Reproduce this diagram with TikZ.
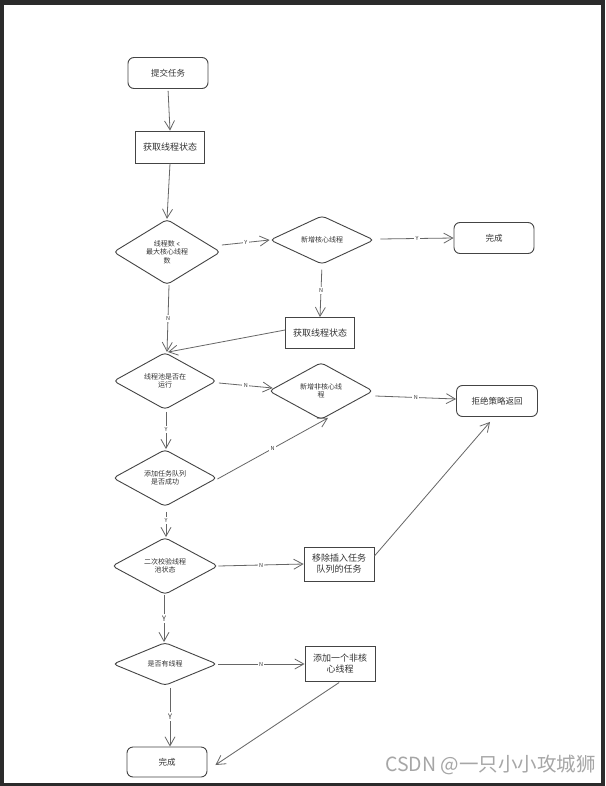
\documentclass[tikz,border=0pt]{standalone}
\usepackage{fontspec}
\setmainfont{Noto Sans CJK SC}
\usetikzlibrary{shapes.geometric,arrows.meta,calc}
\definecolor{frame}{HTML}{2B2B2B}
\definecolor{edge}{HTML}{444444}
\definecolor{conn}{HTML}{666666}
\definecolor{txt}{HTML}{333333}
\tikzset{
  x=1pt,y=-1pt,
  base/.style={draw=edge,line width=0.9pt,text=txt,inner sep=1pt,align=center},
  roundbox/.style={base,rounded corners=6pt,minimum width=80pt,minimum height=31pt,font=\fontsize{8.5}{10}\selectfont},
  rectbox/.style={base,minimum width=69pt,minimum height=32pt,font=\fontsize{9}{11}\selectfont},
  decision/.style={base,diamond,rounded corners=4pt,inner sep=0pt,minimum width=104pt,minimum height=44pt,font=\fontsize{7}{8.5}\selectfont},
  arr/.style={draw=conn,line width=0.8pt,-{Straight Barb[length=9pt,width=10pt,line width=0.8pt]}},
  lbl/.style={fill=white,inner sep=1.5pt,text=txt,font=\fontsize{5.5}{6}\selectfont},
  biglbl/.style={fill=white,inner sep=1.5pt,text=txt,font=\fontsize{7.5}{8}\selectfont},
}
\begin{document}
\begin{tikzpicture}
\useasboundingbox (0,0) rectangle (605,786);
\fill[frame] (0,0) rectangle (605,786);
\fill[white] (4,5) rectangle (601,783);

\node[roundbox] (start) at (168,73) {提交任务};
\node[rectbox] (get1) at (170,147) {获取线程状态};
\node[decision,minimum width=107pt,minimum height=61pt] (d1) at (167,252) {线程数 \texttt{<}\\最大核心线程\\数};
\node[decision,minimum height=46pt] (d2) at (322,240) {新增核心线程};
\node[roundbox] (done1) at (494,238) {完成};
\node[rectbox,minimum height=31pt] (get2) at (320,333) {获取线程状态};
\node[decision,minimum width=103pt,minimum height=46pt] (d3) at (165,381) {线程池是否在\\运行};
\node[decision,minimum height=43pt] (d4) at (321,391) {新增非核心线\\程};
\node[roundbox,minimum width=81pt] (reject) at (497,401) {拒绝策略返回};
\node[decision,minimum height=43pt] (d5) at (165,478) {添加任务队列\\是否成功};
\node[decision,minimum width=106pt,minimum height=44pt] (d6) at (165,566) {二次校验线程\\池状态};
\node[rectbox,minimum width=70pt,minimum height=34pt] (remove) at (339,564) {移除插入任务\\队列的任务};
\node[decision,minimum height=43pt] (d7) at (165,664) {是否有线程};
\node[rectbox,minimum width=70pt,minimum height=35pt] (addnc) at (340,664) {添加一个非核\\心线程};
\node[roundbox,minimum height=30pt] (done2) at (167,762) {完成};

\draw[arr,shorten <=2pt] (start.south) -- (get1.north);
\draw[arr] (get1.south) -- (d1.north);
\draw[arr] ($(d1.east)+(1,-7)$) -- node[lbl]{Y} (d2.west);
\draw[arr] ($(d2.east)+(6,-1)$) -- node[lbl]{Y} (done1.west);
\draw[arr,shorten <=5pt] (d2.south) -- node[lbl]{N} (get2.north);
\draw[arr] ($(get2.west)+(0,-3)$) -- ($(d3.north)+(3,0)$);
\draw[arr] ($(d1.south)+(2,0)$) -- node[lbl]{N} ($(d3.north)+(2,0)$);
\draw[arr] ($(d3.east)+(2,2)$) -- node[lbl]{N} ($(d4.west)+(4,-3)$);
\draw[arr] ($(d4.east)+(2,5)$) -- node[lbl]{N} ($(reject.west)+(0,-2)$);
\draw[arr,shorten <=2pt] ($(d3.south)+(1,0)$) -- node[lbl]{Y} ($(d5.north)+(1,0)$);
\draw[arr] ($(d5.east)+(0,1)$) -- node[lbl,pos=0.5]{N} ($(d4.south)+(7,-2)$);
\draw[arr,shorten <=5pt] ($(d5.south)+(1,0)$) -- node[lbl,pos=0.45]{Y} ($(d6.north)+(1,0)$);
\draw[arr] (d6.east) -- node[lbl]{N} (remove.west);
\draw[arr] ($(remove.east)+(0,-8)$) -- ($(reject.south)+(-7,5)$);
\draw[arr] ($(d6.south)+(-1,0)$) -- node[biglbl]{Y} ($(d7.north)+(-1,0)$);
\draw[arr,shorten <=1pt] (d7.east) -- node[lbl]{N} (addnc.west);
\draw[arr,shorten <=1pt] (addnc.south) -- ($(done2.east)+(8,3)$);
\draw[arr,shorten <=2pt] ($(d7.south)+(5,0)$) -- node[biglbl]{Y} ($(done2.north)+(3,0)$);

\node[anchor=east,text=gray!70,font=\fontsize{19.5}{21}\selectfont,inner sep=0pt] (wm) at (596,765) {CSDN @一只小小攻城狮};
\end{tikzpicture}
\end{document}
